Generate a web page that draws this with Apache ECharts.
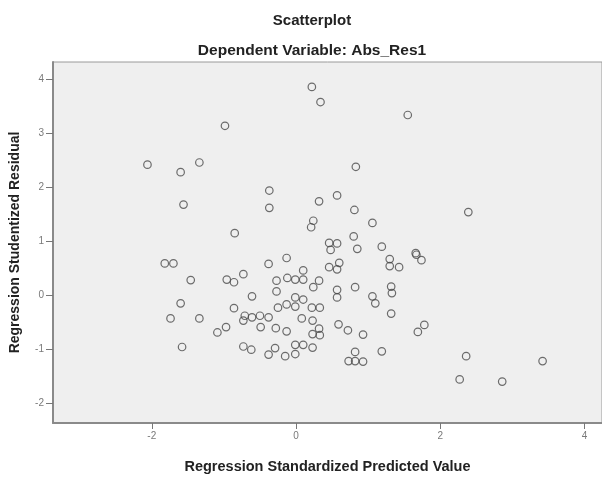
<!DOCTYPE html>
<html>
<head>
<meta charset="utf-8">
<script src="https://cdn.jsdelivr.net/npm/echarts@6/dist/echarts.min.js"></script>
<style>
html,body{margin:0;padding:0;background:#ffffff;}
#chart{width:602px;height:479px;}
</style>
</head>
<body>
<div id="chart"></div>
<script>
var chartTitle = "Scatterplot";
var chartSubtitle = "Dependent Variable: Abs_Res1";
var xAxisName = "Regression Standardized Predicted Value";
var yAxisName = "Regression Studentized Residual";
var xTicks = [-2, 0, 2, 4];
var yTicks = [-2, -1, 0, 1, 2, 3, 4];

var predicted = [
  -0.985, -2.06, -1.34, -1.60, -1.56, -0.85, 0.22, 0.34, 1.55, 0.83,
  -0.37, -0.37, 0.57, 0.32, 0.81, 1.06, 0.24, 0.21, 0.80, 0.46,
  0.57, 0.48, 0.85, 1.19, 1.66, 2.39, -1.82, -1.70, -1.46, -0.96,
  -0.86, -0.73, -1.60, -1.74, -1.34, -0.86, -0.73, -1.09, -0.97, -0.73,
  -1.58, -0.61, -0.38, -0.13, -0.27, -0.12, -0.01, 0.10, 0.10, -0.27,
  -0.01, 0.10, 0.24, 0.32, 0.46, 0.57, 0.60, 0.57, 0.57, 0.82,
  1.06, 1.10, -0.25, -0.13, -0.01, 0.22, 0.33, 0.08, 0.23, 0.32,
  0.23, 0.33, 0.59, 0.72, 0.93, 1.19, -0.71, -0.61, -0.50, -0.38,
  -0.49, -0.28, -0.13, -0.62, -0.38, -0.29, -0.15, -0.01, 0.10, 0.23,
  -0.01, 0.82, 0.73, 0.82, 0.93, 1.30, 1.30, 1.43, 1.67, 1.74,
  1.32, 1.33, 1.32, 1.78, 1.69, 2.36, 2.27, 2.86, 3.42
];
var residual = [
  3.14, 2.42, 2.46, 2.28, 1.68, 1.15, 3.86, 3.58, 3.34, 2.38,
  1.94, 1.62, 1.85, 1.74, 1.58, 1.34, 1.38, 1.26, 1.09, 0.97,
  0.96, 0.84, 0.86, 0.90, 0.78, 1.54, 0.59, 0.59, 0.28, 0.29,
  0.24, 0.39, -0.15, -0.43, -0.43, -0.24, -0.47, -0.69, -0.59, -0.95,
  -0.96, -0.02, 0.58, 0.69, 0.27, 0.32, 0.29, 0.29, 0.46, 0.07,
  -0.04, -0.08, 0.15, 0.27, 0.52, 0.48, 0.60, 0.10, -0.04, 0.15,
  -0.02, -0.15, -0.23, -0.17, -0.21, -0.23, -0.23, -0.43, -0.47, -0.62,
  -0.72, -0.74, -0.54, -0.65, -0.73, -1.04, -0.38, -0.41, -0.38, -0.41,
  -0.59, -0.61, -0.67, -1.01, -1.10, -0.98, -1.13, -0.92, -0.92, -0.97,
  -1.09, -1.05, -1.22, -1.22, -1.23, 0.67, 0.54, 0.52, 0.75, 0.65,
  0.16, 0.04, -0.34, -0.55, -0.68, -1.13, -1.56, -1.60, -1.22
];

var points = predicted.map(function (x, i) { return [x, residual[i]]; });

var FONT = '"Liberation Sans", Arial, sans-serif';
var chart = echarts.init(document.getElementById('chart'), null, {renderer: 'canvas'});
chart.setOption({
  animation: false,
  backgroundColor: '#ffffff',
  title: [
    {text: chartTitle, left: 307, top: 8, textAlign: 'center',
     textStyle: {fontFamily: FONT, fontSize: 15, fontWeight: 'bold', color: '#222'}},
    {text: chartSubtitle, left: 307, top: 38, textAlign: 'center',
     textStyle: {fontFamily: FONT, fontSize: 15.5, fontWeight: 'bold', color: '#222'}}
  ],
  grid: {
    left: 53, right: 0, top: 62, bottom: 45,
    show: true, backgroundColor: '#efefef', borderColor: '#9a9a9a', borderWidth: 1,
    containLabel: false
  },
  xAxis: {
    type: 'value', min: -3.370, max: 4.244,
    name: xAxisName, nameLocation: 'middle', nameGap: 36,
    nameTextStyle: {fontFamily: FONT, fontSize: 14.5, fontWeight: 'bold', color: '#222'},
    axisLine: {show: true, onZero: false, lineStyle: {color: '#8a8a8a', width: 2}},
    axisTick: {show: true, length: 6, customValues: xTicks, lineStyle: {color: '#777', width: 1}},
    axisLabel: {show: true, customValues: xTicks, margin: 8,
      fontFamily: FONT, fontSize: 10, color: '#7a7a7a'},
    splitLine: {show: false}
  },
  yAxis: {
    type: 'value', min: -2.368, max: 4.322,
    name: yAxisName, nameLocation: 'middle', nameGap: 31, nameRotate: 90,
    nameTextStyle: {fontFamily: FONT, fontSize: 14, fontWeight: 'bold', color: '#222'},
    axisLine: {show: true, onZero: false, lineStyle: {color: '#8a8a8a', width: 2}},
    axisTick: {show: true, length: 7, customValues: yTicks, lineStyle: {color: '#777', width: 1}},
    axisLabel: {show: true, customValues: yTicks, margin: 9,
      fontFamily: FONT, fontSize: 10, color: '#7a7a7a'},
    splitLine: {show: false}
  },
  series: [{
    type: 'scatter',
    data: points,
    symbol: 'circle',
    symbolSize: 7.5,
    itemStyle: {color: 'rgba(0,0,0,0)', borderColor: '#4a4a4a', borderWidth: 1.2},
    emphasis: {disabled: true}
  }]
});
</script>
</body>
</html>
